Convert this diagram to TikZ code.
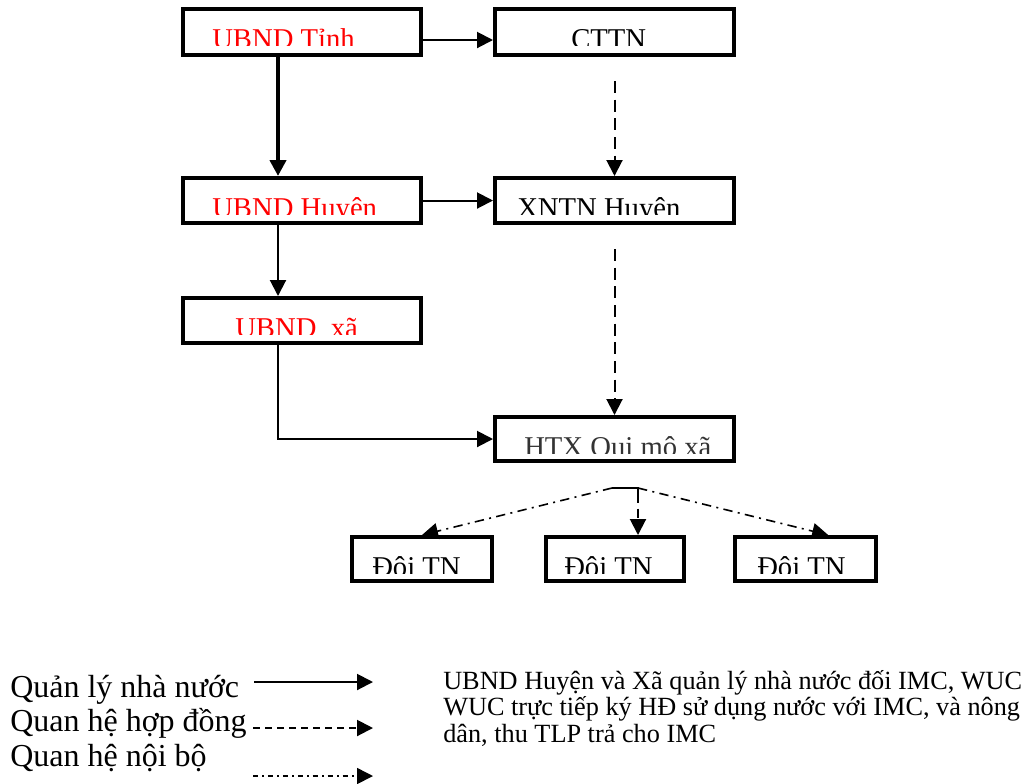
\documentclass[tikz,border=0pt]{standalone}
\usepackage{fontspec}
\setmainfont{Liberation Serif}
\usetikzlibrary{arrows.meta,fit}
\begin{document}
\begin{tikzpicture}[x=0.75pt,y=-0.75pt,
  box/.style={draw, line width=3pt, inner sep=0pt},
  boxtext/.style={inner sep=0pt, anchor=base west, font=\fontsize{21.5}{24}\selectfont},
  legtext/.style={inner sep=0pt, anchor=base west, font=\fontsize{24}{26}\selectfont},
  notetext/.style={inner sep=0pt, anchor=base west, font=\fontsize{19.7}{20}\selectfont},
  tip/.style={-{Triangle[length=12pt,width=12pt]}},
  mgmt/.style={tip, line width=1.5pt},
  thickmgmt/.style={tip, line width=3pt},
  contract/.style={tip, line width=1.5pt, dash pattern=on 9pt off 5pt},
  legcontract/.style={tip, line width=1.5pt, dash pattern=on 5pt off 4pt},
  internal/.style={tip, line width=1.2pt, dash pattern=on 7pt off 4pt on 1.5pt off 4pt},
]
\useasboundingbox (0,0) rectangle (1034,783);

% boxes
\node[box, fit={(183,9) (421,55)}] (b1) {};
\node[box, fit={(495,9) (734,55)}] (b2) {};
\node[box, fit={(183,178) (421,223)}] (b3) {};
\node[box, fit={(495,178) (734,223)}] (b4) {};
\node[box, fit={(183,298) (421,343)}] (b5) {};
\node[box, fit={(495,417) (734,461)}] (b6) {};
\node[box, fit={(352,537) (492,581)}] (d1) {};
\node[box, fit={(546,537) (684,581)}] (d2) {};
\node[box, fit={(735,537) (876,581)}] (d3) {};

% box texts (cut at the bottom as in the original)
\begin{scope}\clip (185,11) rectangle (419,45.5);
\node[boxtext, text=red] (t1) at (212,48) {UBND Tỉnh};\end{scope}
\begin{scope}\clip (497,11) rectangle (732,45.5);
\node[boxtext] (t2) at (571,48) {CTTN};\end{scope}
\begin{scope}\clip (185,180) rectangle (419,214.5);
\node[boxtext, text=red] (t3) at (212,217) {UBND Huyện};\end{scope}
\begin{scope}\clip (497,180) rectangle (732,214.5);
\node[boxtext] (t4) at (517,217) {XNTN Huyện};\end{scope}
\begin{scope}\clip (185,300) rectangle (419,334.5);
\node[boxtext, text=red] (t5) at (235,337) {UBND\ \ xã};\end{scope}
\begin{scope}\clip (497,419) rectangle (732,453.5);
\node[boxtext, text=black!80] (t6) at (524,456) {HTX Qui mô xã};\end{scope}
\begin{scope}\clip (354,539) rectangle (490,573.5);
\node[boxtext] (t7) at (372,576) {Đội TN};\end{scope}
\begin{scope}\clip (548,539) rectangle (682,573.5);
\node[boxtext] (t8) at (564,576) {Đội TN};\end{scope}
\begin{scope}\clip (737,539) rectangle (874,573.5);
\node[boxtext] (t9) at (757,576) {Đội TN};\end{scope}

% connectors
\coordinate (colL) at (278,0);
\draw[thickmgmt] (b1.south -| colL) -- (b3.north -| colL);
\draw[mgmt] ([yshift=-6pt]b1.east) -- ([yshift=-6pt]b2.west);
\draw[mgmt] (b3.east) -- (b4.west);
\draw[contract, shorten <=18pt] (b2.south) -- (b4.north);
\draw[mgmt] (b3.south -| colL) -- (b5.north -| colL);
\draw[contract, shorten <=18pt] (b4.south) -- (b6.north);
\draw[mgmt] (b5.south -| colL) |- (b6.west);

\coordinate (hl) at (612,488);
\coordinate (hr) at (638,488);
\coordinate (hd) at (638,494);
\draw[line width=1.2pt] (hl) -- (hr) -- (hd);
\draw[contract, dash pattern=on 7pt off 4pt] (hd) -- (d2.north -| hr);
\draw[internal] (hl) -- (d1.north);
\draw[internal] (hr) -- ([xshift=17pt]d3.north);

% legend
\node[legtext] (q1) at (10,697) {Quản lý nhà nước};
\node[legtext] (q2) at (10,731.5) {Quan hệ hợp đồng};
\node[legtext] (q3) at (10,766.5) {Quan hệ nội bộ};
\coordinate (l1a) at (254,682); \coordinate (l1b) at (373,682);
\coordinate (l2a) at (253,728); \coordinate (l2b) at (373,728);
\coordinate (l3a) at (253,776); \coordinate (l3b) at (373,776);
\draw[mgmt] (l1a) -- (l1b);
\draw[legcontract] (l2a) -- (l2b);
\draw[internal, dash pattern=on 4pt off 3pt on 1.2pt off 3pt] (l3a) -- (l3b);

% note
\node[notetext] (n1) at (443,689) {UBND Huyện và Xã quản lý nhà nước đối IMC, WUC};
\node[notetext] (n2) at (443,715.5) {WUC trực tiếp ký HĐ sử dụng nước với IMC, và nông};
\node[notetext] (n3) at (443,742) {dân, thu TLP trả cho IMC};
\end{tikzpicture}
\end{document}
